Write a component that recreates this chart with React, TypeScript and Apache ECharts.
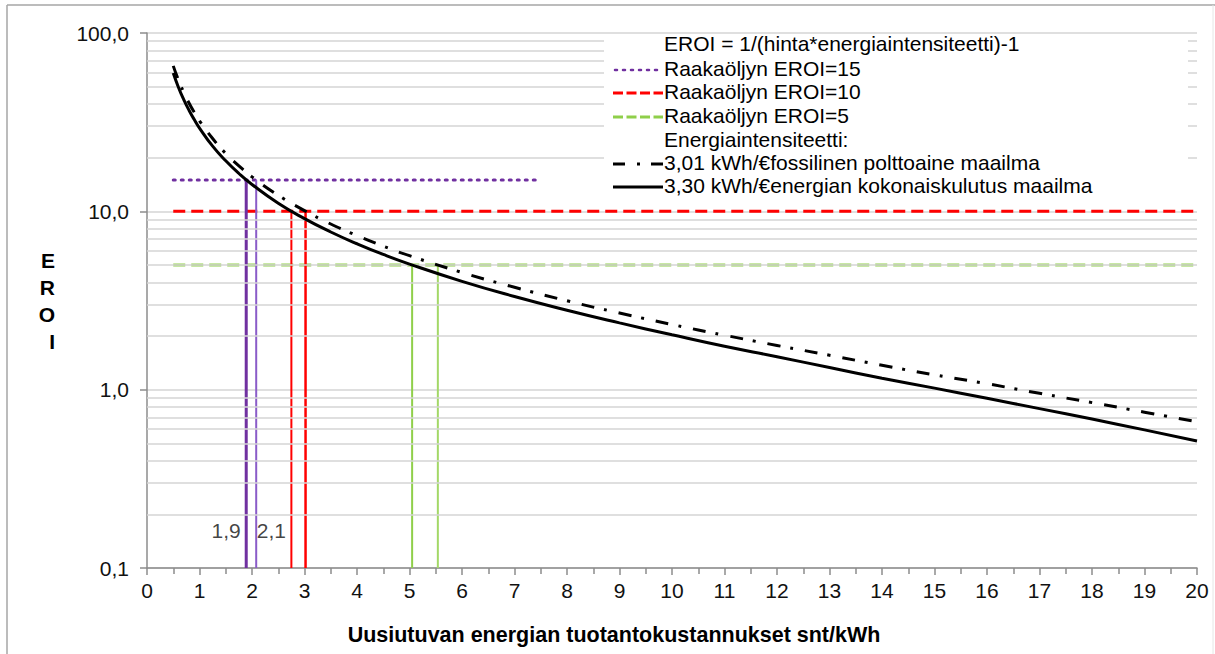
import React, { useEffect, useRef } from "react";
import * as echarts from "echarts";

// ---- data ----
const xValues = [0.5, 0.6, 0.7, 0.8, 0.9, 1, 1.25, 1.5, 1.75, 2, 2.5, 3, 3.5, 4, 4.5, 5, 6, 7, 8, 9, 10, 11, 12, 13, 14, 15, 16, 17, 18, 19, 20];
// 3,01 kWh/€ fossilinen polttoaine maailma (dash-dot)
const fossilEroi = [65.4, 54.4, 46.5, 40.5, 35.9, 32.2, 25.6, 21.1, 18.0, 15.6, 12.3, 10.1, 8.49, 7.31, 6.38, 5.64, 4.54, 3.75, 3.15, 2.69, 2.32, 2.02, 1.77, 1.56, 1.37, 1.21, 1.08, 0.954, 0.846, 0.748, 0.661];
// 3,30 kWh/€ energian kokonaiskulutus maailma (solid)
const totalEroi = [59.6, 49.5, 42.3, 36.9, 32.7, 29.3, 23.2, 19.2, 16.3, 14.15, 11.1, 9.1, 7.66, 6.58, 5.73, 5.06, 4.05, 3.33, 2.79, 2.37, 2.03, 1.75, 1.53, 1.33, 1.16, 1.02, 0.894, 0.783, 0.684, 0.595, 0.515];

// crude oil EROI reference lines: [level, xStart, xEnd]
const oilLevels = [15, 10, 5];
const oilXStart = [0.5, 0.5, 0.5];
const oilXEnd = [7.5, 20, 20];

// intersection markers (x where curve hits the oil level)
const crossX = [1.89, 2.08, 2.75, 3.02, 5.05, 5.54];
const crossTop = [15, 15, 10, 10, 5, 5];
const crossLabels = ["1,9", "2,1"];
const crossLabelY = 0.163;

const yMin = 0.1;
const yMax = 100;
const minorGrid = [0.2, 0.3, 0.4, 0.5, 0.6, 0.7, 0.8, 0.9, 2, 3, 4, 5, 6, 7, 8, 9, 20, 30, 40, 50, 60, 70, 80, 90];

const legendTitle = "EROI = 1/(hinta*energiaintensiteetti)-1";
const legendNames = ["Raakaöljyn EROI=15", "Raakaöljyn EROI=10", "Raakaöljyn EROI=5"];
const legendSubTitle = "Energiaintensiteetti:";
const curveNames = ["3,01 kWh/€fossilinen polttoaine maailma", "3,30 kWh/€energian kokonaiskulutus maailma"];

const xTitle = "Uusiutuvan energian tuotantokustannukset snt/kWh";
const yTitle = "E\nR\nO\nI";

const FONT = "'Liberation Sans', Arial, sans-serif";
const PURPLE = "#7030a0";
const PURPLE2 = "#8a5cc8";
const RED = "#ff0000";
const GREEN = "#8fcf4a";
const GREEN2 = "#a3d867";
const FS = 21;

export default function App() {
  const ref = useRef<HTMLDivElement>(null);

  useEffect(() => {
    if (!ref.current) return;
    const chart = echarts.init(ref.current, undefined, { renderer: "svg" });

    const oilColors = [PURPLE, RED, GREEN];
    const oilDash: any[] = [[2, 6], [12, 6], [12, 6]];
    const crossColors = [PURPLE, PURPLE2, RED, RED, GREEN, GREEN2];
    const crossWidths = [3, 2, 2, 2.5, 2, 2];

    const series: any[] = [];

    // minor horizontal gridlines
    series.push({
      type: "line",
      data: [],
      silent: true,
      markLine: {
        silent: true,
        symbol: "none",
        label: { show: false },
        lineStyle: { color: "#d4d4d4", width: 1.5, type: "solid" },
        data: minorGrid.map((v) => ({ yAxis: v })),
      },
      z: 1,
    });

    oilLevels.forEach((lv, i) => {
      series.push({
        name: legendNames[i],
        type: "line",
        data: [[oilXStart[i], lv], [oilXEnd[i], lv]],
        symbol: "none",
        lineStyle: { color: oilColors[i], width: 3, type: oilDash[i], cap: i === 0 ? "round" : "butt" },
        z: 3,
      });
    });

    crossX.forEach((x, i) => {
      series.push({
        type: "line",
        data: [[x, yMin], [x, crossTop[i]]],
        symbol: "none",
        lineStyle: { color: crossColors[i], width: crossWidths[i] },
        z: 4,
      });
    });

    series.push({
      name: curveNames[0],
      type: "line",
      smooth: true,
      symbol: "none",
      data: xValues.map((x, i) => [x, fossilEroi[i]]),
      lineStyle: { color: "#000", width: 3, type: [13, 10, 3, 12] },
      z: 5,
    });
    series.push({
      name: curveNames[1],
      type: "line",
      smooth: true,
      symbol: "none",
      data: xValues.map((x, i) => [x, totalEroi[i]]),
      lineStyle: { color: "#000", width: 3 },
      z: 6,
    });

    series.push({
      type: "scatter",
      symbolSize: 1,
      itemStyle: { color: "rgba(0,0,0,0)" },
      silent: true,
      data: [
        { value: [crossX[0], crossLabelY], label: { show: true, position: "left", distance: 5, formatter: crossLabels[0] } },
        { value: [crossX[1], crossLabelY], label: { show: true, position: "right", distance: 0, formatter: crossLabels[1] } },
      ],
      label: { color: "#111", fontSize: FS, fontFamily: FONT },
      z: 7,
    });

    // custom legend drawn with graphics
    const lx0 = 613;
    const lx1 = 663;
    const tx = 664;
    const rowsY = [45, 70, 93, 117, 141, 164, 187];
    const textStyle = (t: string, y: number) => ({
      type: "text",
      left: tx,
      top: y - 12,
      style: { text: t, fill: "#000", font: `${FS}px ${FONT}` },
      z: 101,
    });
    const legendGraphics: any[] = [
      { type: "rect", shape: { x: 604, y: 36, width: 584, height: 162 }, style: { fill: "#fff" }, z: 100 },
      textStyle(legendTitle, rowsY[0]),
      textStyle(legendNames[0], rowsY[1]),
      textStyle(legendNames[1], rowsY[2]),
      textStyle(legendNames[2], rowsY[3]),
      textStyle(legendSubTitle, rowsY[4]),
      textStyle(curveNames[0], rowsY[5]),
      textStyle(curveNames[1], rowsY[6]),
      { type: "line", shape: { x1: lx0 + 2, y1: rowsY[1], x2: lx1 - 4, y2: rowsY[1] }, style: { stroke: PURPLE, lineWidth: 2.5, lineDash: [2, 6], lineCap: "round" }, z: 101 },
      { type: "line", shape: { x1: lx0, y1: rowsY[2], x2: lx1, y2: rowsY[2] }, style: { stroke: RED, lineWidth: 3, lineDash: [10, 3.5] }, z: 101 },
      { type: "line", shape: { x1: lx0, y1: rowsY[3], x2: lx1, y2: rowsY[3] }, style: { stroke: GREEN, lineWidth: 3, lineDash: [10, 3.5] }, z: 101 },
      { type: "line", shape: { x1: lx0, y1: rowsY[5], x2: lx1, y2: rowsY[5] }, style: { stroke: "#000", lineWidth: 3, lineDash: [12, 12, 3, 11] }, z: 101 },
      { type: "line", shape: { x1: lx0, y1: rowsY[6], x2: lx1, y2: rowsY[6] }, style: { stroke: "#000", lineWidth: 3 }, z: 101 },
      // outer frame
      { type: "line", shape: { x1: 7, y1: 5, x2: 7, y2: 654 }, style: { stroke: "#a6a6a6", lineWidth: 1.5 }, z: 102 },
      { type: "line", shape: { x1: 7, y1: 5, x2: 1215, y2: 5 }, style: { stroke: "#a6a6a6", lineWidth: 1.5 }, z: 102 },
      { type: "line", shape: { x1: 1213, y1: 5, x2: 1213, y2: 654 }, style: { stroke: "#e6e6e6", lineWidth: 1 }, z: 102 },
    ];

    const option: any = {
      animation: false,
      backgroundColor: "#fff",
      grid: { left: 147, right: 18, top: 33, bottom: 86, containLabel: false },
      xAxis: {
        type: "value",
        min: 0,
        max: 20,
        interval: 1,
        name: xTitle,
        nameLocation: "middle",
        nameGap: 56,
        nameTextStyle: { fontSize: 21.5, fontWeight: "bold", fontFamily: FONT, color: "#000", padding: [0, 116, 0, 0] },
        axisLine: { show: true, lineStyle: { color: "#8c8c8c", width: 1.5 } },
        axisTick: { show: true, length: 7, lineStyle: { color: "#8c8c8c", width: 1.5 } },
        minorTick: { show: true, splitNumber: 2, length: 6, lineStyle: { color: "#8c8c8c", width: 1.5 } },
        splitLine: { show: false },
        axisLabel: { fontSize: FS, fontFamily: FONT, color: "#111", margin: 12 },
      },
      yAxis: {
        type: "log",
        logBase: 10,
        min: yMin,
        max: yMax,
        name: yTitle,
        nameLocation: "middle",
        nameRotate: 0,
        nameGap: 92,
        nameTextStyle: { fontSize: 21, fontWeight: "bold", fontFamily: FONT, color: "#000", lineHeight: 27 },
        axisLine: { show: true, lineStyle: { color: "#8c8c8c", width: 1.5 } },
        axisTick: { show: true, length: 7, lineStyle: { color: "#8c8c8c", width: 1.5 } },
        splitLine: { show: true, lineStyle: { color: "#d4d4d4", width: 1.5 } },
        axisLabel: {
          fontSize: FS,
          fontFamily: FONT,
          color: "#111",
          margin: 18,
          formatter: (v: number) => v.toFixed(1).replace(".", ","),
        },
      },
      series,
      graphic: legendGraphics,
    };

    chart.setOption(option);
    return () => chart.dispose();
  }, []);

  return <div ref={ref} style={{ position: "absolute", left: 0, top: 0, width: 1215, height: 654 }} />;
}
